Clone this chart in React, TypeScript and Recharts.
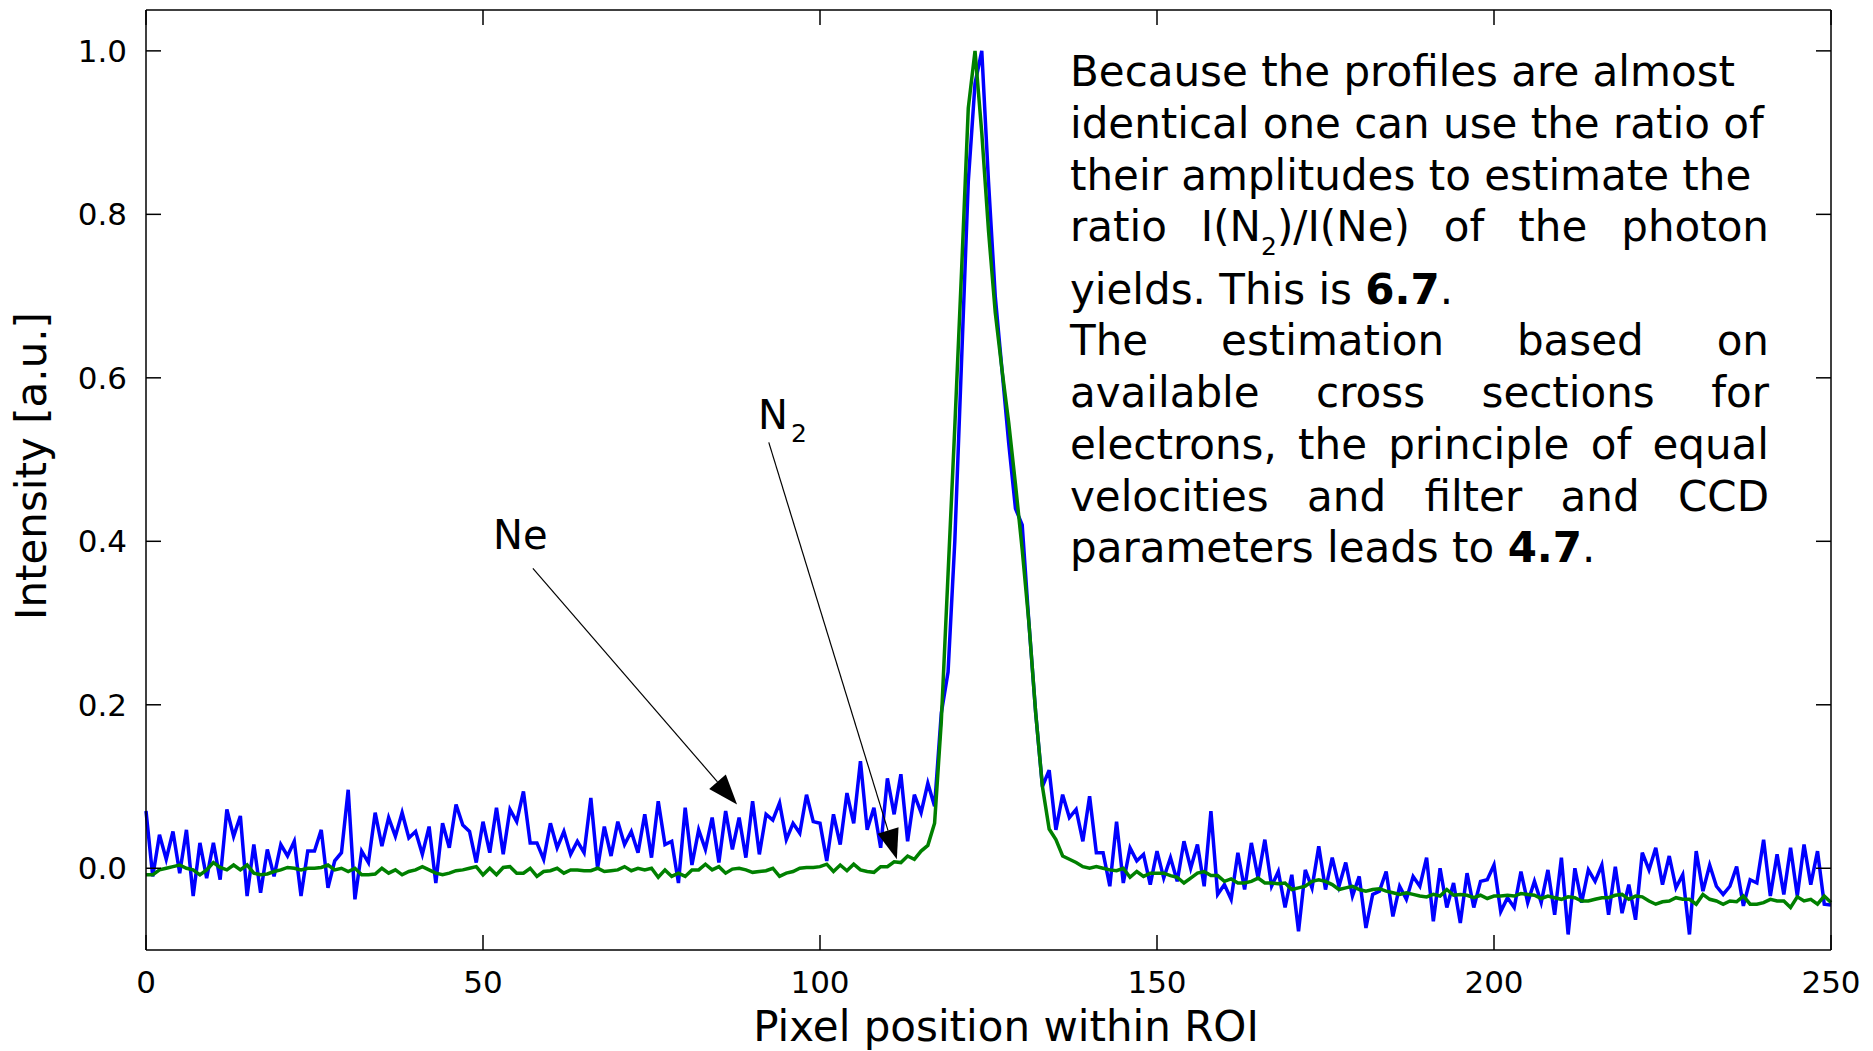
import React from "react";
import { LineChart, Line, XAxis, YAxis, ReferenceLine, ReferenceDot } from "recharts";

const neIntensity = [
  0.070, -0.010, 0.041, 0.011, 0.045, -0.006, 0.047, -0.034, 0.031, -0.012,
  0.031, -0.014, 0.072, 0.039, 0.064, -0.034, 0.029, -0.030, 0.023, -0.010,
  0.029, 0.015, 0.033, -0.034, 0.021, 0.021, 0.047, -0.024, 0.009, 0.019,
  0.096, -0.038, 0.021, 0.007, 0.068, 0.027, 0.062, 0.039, 0.068, 0.037,
  0.045, 0.017, 0.051, -0.018, 0.055, 0.025, 0.078, 0.053, 0.045, 0.007,
  0.057, 0.019, 0.074, 0.017, 0.072, 0.057, 0.094, 0.031, 0.031, 0.011,
  0.055, 0.025, 0.045, 0.017, 0.033, 0.019, 0.086, 0.000, 0.051, 0.015,
  0.057, 0.029, 0.045, 0.019, 0.066, 0.013, 0.082, 0.029, 0.033, -0.018,
  0.074, 0.004, 0.047, 0.023, 0.062, 0.007, 0.070, 0.023, 0.062, 0.013,
  0.082, 0.017, 0.066, 0.059, 0.080, 0.035, 0.055, 0.043, 0.090, 0.057,
  0.055, 0.009, 0.066, 0.029, 0.092, 0.055, 0.131, 0.047, 0.074, 0.025,
  0.110, 0.066, 0.115, 0.033, 0.090, 0.068, 0.104, 0.076, 0.19, 0.24,
  0.40, 0.62, 0.84, 0.96, 1.00, 0.84, 0.70, 0.61, 0.52, 0.44,
  0.42, 0.30, 0.19, 0.10, 0.12, 0.047, 0.090, 0.062, 0.072, 0.033,
  0.088, 0.019, 0.019, -0.022, 0.057, -0.018, 0.025, 0.009, 0.017, -0.020,
  0.021, -0.012, 0.013, -0.016, 0.033, 0.000, 0.029, -0.022, 0.070, -0.032,
  -0.020, -0.038, 0.019, -0.026, 0.031, -0.012, 0.035, -0.022, -0.004, -0.048,
  -0.008, -0.077, -0.002, -0.024, 0.027, -0.026, 0.013, -0.022, 0.007, -0.034,
  -0.010, -0.073, -0.032, -0.028, -0.004, -0.059, -0.022, -0.038, -0.010, -0.022,
  0.013, -0.065, 0.000, -0.048, -0.018, -0.067, -0.006, -0.048, -0.016, -0.014,
  0.004, -0.053, -0.036, -0.048, -0.004, -0.042, -0.016, -0.042, -0.002, -0.057,
  0.013, -0.081, 0.000, -0.042, -0.002, -0.016, 0.004, -0.057, 0.002, -0.055,
  -0.020, -0.063, 0.019, -0.002, 0.025, -0.020, 0.015, -0.024, -0.008, -0.081,
  0.021, -0.028, 0.004, -0.022, -0.032, -0.022, 0.002, -0.046, -0.014, -0.018,
  0.035, -0.034, 0.017, -0.032, 0.025, -0.034, 0.029, -0.020, 0.021, -0.044,
  -0.045,
];

const n2Intensity = [
  -0.008, -0.008, -0.002, 0.000, 0.002, 0.004, 0.000, -0.002, -0.008, -0.002,
  0.007, 0.001, -0.002, 0.004, -0.002, 0.004, -0.006, -0.008, -0.007, -0.004,
  -0.002, 0.001, 0.000, -0.002, 0.000, 0.000, 0.001, 0.004, -0.002, 0.000,
  -0.004, 0.000, -0.008, -0.008, -0.007, 0.000, -0.006, -0.002, -0.008, -0.004,
  -0.002, 0.002, -0.002, -0.006, -0.008, -0.006, -0.003, -0.002, 0.000, 0.002,
  -0.008, 0.000, -0.008, 0.001, 0.002, -0.006, -0.006, 0.000, -0.010, -0.004,
  -0.003, 0.000, -0.006, -0.002, -0.002, -0.003, -0.003, 0.000, -0.004, -0.003,
  -0.002, 0.002, -0.003, 0.000, -0.002, 0.000, -0.011, -0.002, -0.010, -0.006,
  -0.010, -0.002, -0.002, 0.005, -0.002, 0.002, -0.006, -0.001, 0.000, -0.002,
  -0.005, -0.004, -0.003, 0.000, -0.010, -0.006, -0.004, 0.000, 0.001, 0.001,
  0.002, 0.005, -0.004, 0.004, -0.003, 0.005, -0.002, -0.004, -0.005, 0.002,
  0.002, 0.008, 0.007, 0.015, 0.011, 0.021, 0.028, 0.055, 0.18, 0.36,
  0.54, 0.73, 0.93, 1.00, 0.90, 0.78, 0.68, 0.61, 0.545, 0.47,
  0.39, 0.30, 0.19, 0.10, 0.048, 0.035, 0.015, 0.011, 0.007, 0.002,
  0.000, 0.002, 0.000, -0.002, -0.003, 0.000, -0.011, -0.004, -0.010, -0.006,
  -0.006, -0.006, -0.009, -0.011, -0.018, -0.012, -0.006, -0.004, -0.009, -0.009,
  -0.016, -0.013, -0.018, -0.018, -0.016, -0.012, -0.018, -0.018, -0.019, -0.018,
  -0.026, -0.024, -0.022, -0.016, -0.014, -0.016, -0.020, -0.026, -0.024, -0.022,
  -0.026, -0.028, -0.026, -0.025, -0.028, -0.030, -0.032, -0.030, -0.032, -0.034,
  -0.035, -0.032, -0.034, -0.026, -0.033, -0.032, -0.033, -0.036, -0.033, -0.037,
  -0.034, -0.034, -0.033, -0.034, -0.031, -0.032, -0.033, -0.037, -0.034, -0.036,
  -0.038, -0.035, -0.036, -0.040, -0.040, -0.038, -0.036, -0.036, -0.033, -0.032,
  -0.038, -0.034, -0.035, -0.040, -0.044, -0.041, -0.040, -0.036, -0.038, -0.038,
  -0.044, -0.032, -0.038, -0.040, -0.044, -0.040, -0.041, -0.034, -0.044, -0.044,
  -0.042, -0.038, -0.040, -0.040, -0.048, -0.035, -0.040, -0.038, -0.044, -0.034,
  -0.042,
];

const pixelTicks = [0, 50, 100, 150, 200, 250];
const intensityTicks = [0, 0.2, 0.4, 0.6, 0.8, 1.0];

// annotation arrows, in data coordinates
const arrows = [
  { from: { x: 57.4, y: 0.367 }, to: { x: 87.7, y: 0.078 } },
  { from: { x: 92.4, y: 0.521 }, to: { x: 111.4, y: 0.011 } },
];
const arrowLabels = [
  { x: 51.5, y: 0.391, text: "Ne", sub: "" },
  { x: 90.8, y: 0.538, text: "N", sub: "2" },
];

const data = neIntensity.map((ne, i) => ({ px: i, ne, n2: n2Intensity[i] }));

const FONT = '"DejaVu Sans", Verdana, sans-serif';
const axisStroke = { stroke: "#000", strokeWidth: 1.5 };
const tickStyle = { fill: "#000", fontSize: 31, fontFamily: FONT };

const ArrowShape = (props: any) => {
  const { x1, y1, x2, y2 } = props;
  const dx = x2 - x1;
  const dy = y2 - y1;
  const len = Math.hypot(dx, dy) || 1;
  const ux = dx / len;
  const uy = dy / len;
  const bx = x2 - ux * 30;
  const by = y2 - uy * 30;
  const nx = -uy * 11;
  const ny = ux * 11;
  return (
    <g>
      <line x1={x1} y1={y1} x2={bx} y2={by} stroke="#000" strokeWidth={1.2} />
      <polygon points={`${x2},${y2} ${bx + nx},${by + ny} ${bx - nx},${by - ny}`} fill="#000" />
    </g>
  );
};

const labelShape = (text: string, sub: string) => (props: any) => (
  <text x={props.cx} y={props.cy} fontSize={40} fontFamily={FONT} fill="#000">
    {text}
    {sub && (
      <tspan fontSize={25} dx={3} dy={13}>
        {sub}
      </tspan>
    )}
  </text>
);

// baseline offset for a 42px DejaVu line with line-height 42px
const BASE = 35.5;

function TextRow({ baseline, justify, children }: { baseline: number; justify?: boolean; children: React.ReactNode }) {
  return (
    <div
      style={{
        position: "absolute",
        left: 1070,
        top: baseline - BASE,
        width: 699,
        lineHeight: "42px",
        fontSize: 42,
        whiteSpace: justify ? "normal" : "nowrap",
        textAlign: justify ? "justify" : "left",
        textAlignLast: justify ? "justify" : "left",
      }}
    >
      {children}
    </div>
  );
}

export default function App() {
  return (
    <div style={{ position: "relative", width: 1873, height: 1051, background: "#fff", fontFamily: FONT, color: "#000" }}>
      <style>{`body{margin:0}`}</style>
      <LineChart width={1873} height={1051} data={data} margin={{ top: 9, right: 41, bottom: 100, left: 145 }}>
        <XAxis
          dataKey="px"
          type="number"
          domain={[0, 250]}
          ticks={pixelTicks}
          interval={0}
          height={1}
          tickSize={-15}
          tickMargin={36}
          axisLine={axisStroke}
          tickLine={axisStroke}
          tick={tickStyle}
        />
        <XAxis
          xAxisId="top"
          orientation="top"
          type="number"
          domain={[0, 250]}
          ticks={pixelTicks}
          interval={0}
          height={1}
          tickSize={-15}
          axisLine={axisStroke}
          tickLine={axisStroke}
          tickFormatter={() => ""}
        />
        <YAxis
          type="number"
          domain={[-0.1, 1.05]}
          allowDataOverflow
          ticks={intensityTicks}
          interval={0}
          width={1}
          tickSize={-15}
          tickMargin={34}
          axisLine={axisStroke}
          tickLine={axisStroke}
          tick={tickStyle}
          tickFormatter={(v: number) => v.toFixed(1)}
        />
        <YAxis
          yAxisId="right"
          orientation="right"
          type="number"
          domain={[-0.1, 1.05]}
          allowDataOverflow
          ticks={intensityTicks}
          interval={0}
          width={1}
          tickSize={-15}
          axisLine={axisStroke}
          tickLine={axisStroke}
          tickFormatter={() => ""}
        />
        <Line dataKey="ne" type="linear" stroke="#0000ff" strokeWidth={3.5} dot={false} isAnimationActive={false} />
        <Line dataKey="n2" type="linear" stroke="#008000" strokeWidth={3.5} dot={false} isAnimationActive={false} />
        {arrows.map((a, i) => (
          <ReferenceLine key={`a${i}`} segment={[a.from, a.to]} shape={ArrowShape} ifOverflow="visible" />
        ))}
        {arrowLabels.map((l, i) => (
          <ReferenceDot key={`l${i}`} x={l.x} y={l.y} r={0} shape={labelShape(l.text, l.sub)} ifOverflow="visible" />
        ))}
      </LineChart>

      <div style={{ position: "absolute", left: 706, top: 1041 - BASE, width: 600, textAlign: "center", fontSize: 42, lineHeight: "42px", whiteSpace: "nowrap" }}>
        Pixel position within ROI
      </div>
      <div
        style={{
          position: "absolute",
          left: 31.5 - 300,
          top: 466 - 21,
          width: 600,
          height: 42,
          textAlign: "center",
          fontSize: 42,
          lineHeight: "42px",
          whiteSpace: "nowrap",
          transform: "rotate(-90deg)",
        }}
      >
        Intensity [a.u.]
      </div>

      <TextRow baseline={86}>Because the profiles are almost</TextRow>
      <TextRow baseline={138}>identical one can use the ratio of</TextRow>
      <TextRow baseline={190}>their amplitudes to estimate the</TextRow>
      <TextRow baseline={241} justify>
        ratio I(N<span style={{ fontSize: 25, position: "relative", top: 14 }}>2</span>)/I(Ne) of the photon
      </TextRow>
      <TextRow baseline={304}>
        yields. This is <b>6.7</b>.
      </TextRow>
      <TextRow baseline={355} justify>The estimation based on</TextRow>
      <TextRow baseline={407} justify>available cross sections for</TextRow>
      <TextRow baseline={459} justify>electrons, the principle of equal</TextRow>
      <TextRow baseline={511} justify>velocities and filter and CCD</TextRow>
      <TextRow baseline={562}>
        parameters leads to <b>4.7</b>.
      </TextRow>
    </div>
  );
}
